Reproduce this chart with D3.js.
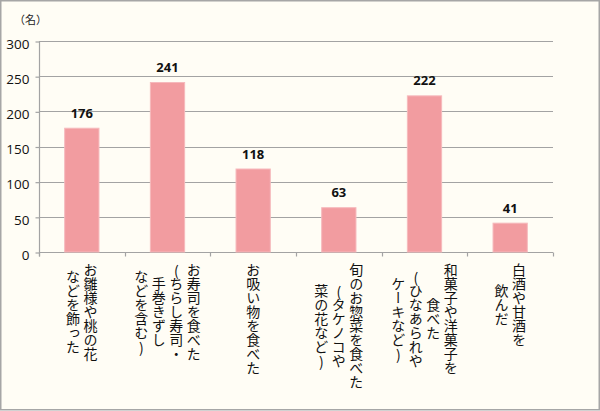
<!DOCTYPE html>
<html>
<head>
<meta charset="utf-8">
<script src="https://cdn.jsdelivr.net/npm/d3@7"></script>
<style>
  html, body { margin: 0; padding: 0; background: #ffffff; }
  #wrap { position: relative; width: 600px; height: 411px; }
  svg { display: block; position: absolute; left: 0; top: 0; }
  .vlabel {
    position: absolute;
    writing-mode: vertical-rl;
    text-orientation: upright;
    font-family: 'Noto Sans CJK JP', 'Noto Sans', sans-serif;
    font-size: 14px;
    line-height: 14px;
    color: #111;
    white-space: nowrap;
  }
  .vlabel .tcu {
    text-combine-upright: all;
    font-feature-settings: "vert" 0, "vrt2" 0;
  }
</style>
</head>
<body>
<div id="wrap">
<svg id="chart" width="600" height="411"></svg>
</div>
<script>
// ---- data ----
const categories = [
  ["お雛様や桃の花", "などを飾った"],
  ["お寿司を食べた", "(ちらし寿司・", "手巻きずし", "などを含む)"],
  ["お吸い物を食べた"],
  ["旬のお惣菜を食べた", "(タケノコや", "菜の花など)"],
  ["和菓子や洋菓子を", "食べた", "(ひなあられや", "ケーキなど)"],
  ["白酒や甘酒を", "飲んだ"]
];
const values = [176, 241, 118, 63, 222, 41];
const yTicks = [0, 50, 100, 150, 200, 250, 300];
const unitLabel = "（名）";

// ---- layout ----
const svg = d3.select("#chart");
const W = 600, H = 411;
const plotL = 39, plotR = 553, plotT = 41, plotB = 252;
const gridColor = "#a3a3a3";
const jpFont = "'Noto Sans CJK JP', 'Noto Sans', sans-serif";
const numFont = "'Open Sans', 'Liberation Sans', sans-serif";

svg.append("rect")
  .attr("x", 0.75).attr("y", 0.75)
  .attr("width", W - 1.5).attr("height", 409)
  .attr("fill", "#fffdf5")
  .attr("stroke", "#a6a6a6").attr("stroke-width", 1.5);

const idx = d3.range(categories.length);
const x = d3.scaleBand().domain(idx).range([plotL, plotR]).paddingInner(0).paddingOuter(0);
const y = d3.scaleLinear().domain([0, 300]).range([plotB, plotT]);

// gridlines
svg.append("g").selectAll("line").data(yTicks.filter(t => t > 0)).join("line")
  .attr("x1", plotL).attr("x2", plotR)
  .attr("y1", d => Math.round(y(d)) + 0.5).attr("y2", d => Math.round(y(d)) + 0.5)
  .attr("stroke", gridColor).attr("stroke-width", 1.2);

// y axis
const yAxis = d3.axisLeft(y).tickValues(yTicks).tickSize(4).tickPadding(6).tickSizeOuter(0);
const gy = svg.append("g").attr("transform", `translate(${plotL + 0.5},0.5)`).call(yAxis);
gy.select(".domain").attr("stroke", gridColor).attr("stroke-width", 1.2)
  .attr("d", `M0,${plotT}V${plotB + 4}`);
gy.selectAll(".tick line").attr("stroke", gridColor).attr("stroke-width", 1.2);
gy.selectAll(".tick text")
  .attr("font-family", numFont).attr("font-size", 13.5).attr("fill", "#111")
  .attr("dy", "0.5em");

// x axis
const xAxis = d3.axisBottom(x).tickSize(0).tickFormat("").tickSizeOuter(0);
const gx = svg.append("g").attr("transform", `translate(0,${Math.round(plotB) + 0.5})`).call(xAxis);
gx.select(".domain").attr("stroke", gridColor).attr("stroke-width", 1.2)
  .attr("d", `M${plotL},0H${plotR}`);
gx.selectAll(".tick").remove();
gx.append("g").selectAll("line").data(d3.range(categories.length + 1)).join("line")
  .attr("x1", d => Math.round(plotL + d * x.bandwidth()) + 0.5)
  .attr("x2", d => Math.round(plotL + d * x.bandwidth()) + 0.5)
  .attr("y1", 0).attr("y2", 4)
  .attr("stroke", gridColor).attr("stroke-width", 1.2);

// bars
const barW = x.bandwidth() * 0.4;
svg.append("g").selectAll("rect").data(values).join("rect")
  .attr("x", (d, i) => x(i) + (x.bandwidth() - barW) / 2)
  .attr("y", d => y(d))
  .attr("width", barW)
  .attr("height", d => y(0) - y(d))
  .attr("fill", "#f29ca0")
  .attr("stroke", "#f6b9bc").attr("stroke-width", 1);

// value labels
svg.append("g").selectAll("text").data(values).join("text")
  .attr("x", (d, i) => x(i) + x.bandwidth() / 2)
  .attr("y", d => y(d) - 10.5)
  .attr("text-anchor", "middle")
  .attr("font-family", numFont).attr("font-weight", "bold").attr("font-size", 13)
  .attr("fill", "#111")
  .text(d => d);

// unit label
svg.append("text")
  .attr("x", 14).attr("y", 24)
  .attr("font-family", jpFont).attr("font-size", 11).attr("fill", "#222")
  .text(unitLabel);

// category labels (vertical, HTML for upright orientation)
const colGap = 17.5, labelTop = 263;
const wrap = d3.select("#wrap");
categories.forEach((lines, i) => {
  const cx = x(i) + x.bandwidth() / 2;
  const n = lines.length;
  const divs = lines.map((ln, j) => {
    const colX = cx + ((n - 1) / 2 - j) * colGap;
    const dv = wrap.append("div").attr("class", "vlabel")
      .style("left", (colX - 7) + "px")
      .style("top", "0px");
    ln.split(/([()])/).filter(s => s.length).forEach(part => {
      const sp = dv.append("span").text(part);
      if (part === "(" || part === ")") sp.attr("class", "tcu");
    });
    return dv;
  });
  const maxLen = d3.max(divs, dv => dv.node().offsetHeight);
  const cy = labelTop + maxLen / 2;
  divs.forEach(dv => dv.style("top", (cy - dv.node().offsetHeight / 2) + "px"));
});
</script>
</body>
</html>
